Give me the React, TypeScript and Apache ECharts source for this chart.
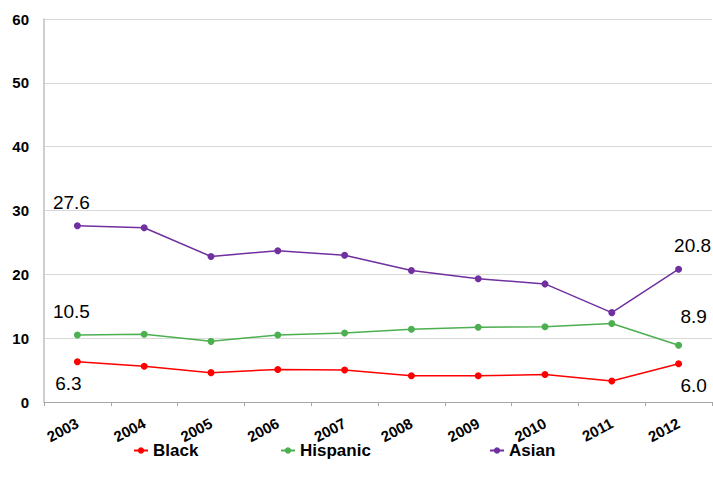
import React, { useEffect, useRef } from "react";
import * as echarts from "echarts";

const years = ["2003", "2004", "2005", "2006", "2007", "2008", "2009", "2010", "2011", "2012"];
const black = [6.3, 5.6, 4.6, 5.1, 5.0, 4.1, 4.1, 4.3, 3.3, 6.0];
const hispanic = [10.5, 10.6, 9.5, 10.5, 10.8, 11.4, 11.7, 11.8, 12.3, 8.9];
const asian = [27.6, 27.3, 22.8, 23.7, 23.0, 20.6, 19.3, 18.5, 14.0, 20.8];
const yTicks = [0, 10, 20, 30, 40, 50, 60];

const FONT = "'Liberation Sans', Arial, sans-serif";

type LabelSpec = { position: string; offset: [number, number]; distance: number };

function buildData(values: number[], first: LabelSpec, last: LabelSpec) {
  return values.map((v, i) => {
    if (i === 0 || i === values.length - 1) {
      const s = i === 0 ? first : last;
      return {
        value: v,
        label: {
          show: true,
          position: s.position,
          offset: s.offset,
          distance: s.distance,
          formatter: (p: any) => Number(p.value).toFixed(1),
          fontFamily: FONT,
          fontSize: 19,
          color: "#000",
        },
      };
    }
    return v;
  });
}

export default function App() {
  const ref = useRef<HTMLDivElement>(null);
  useEffect(() => {
    if (!ref.current) return;
    const chart = echarts.init(ref.current, null, { renderer: "svg" });
    const legendCommon = {
      top: 437,
      itemWidth: 14,
      itemHeight: 8,
      itemGap: 5,
      textStyle: { fontFamily: FONT, fontSize: 17, fontWeight: "bold", color: "#000" },
    };
    chart.setOption({
      animation: false,
      backgroundColor: "#fff",
      grid: { left: 44, right: 1, top: 19, bottom: 85, containLabel: false },
      legend: [
        { ...legendCommon, left: 128, data: ["Black"] },
        { ...legendCommon, left: 275, data: ["Hispanic"] },
        { ...legendCommon, left: 484, data: ["Asian"] },
      ],
      xAxis: {
        type: "category",
        data: years,
        boundaryGap: true,
        axisLine: { show: true, lineStyle: { color: "#a6a6a6", width: 1 } },
        axisTick: { show: true, length: 4, lineStyle: { color: "#a6a6a6" } },
        axisLabel: {
          rotate: 28,
          margin: 20,
          fontFamily: FONT,
          fontSize: 15,
          fontWeight: "bold",
          color: "#000",
          interval: 0,
        },
      },
      yAxis: {
        type: "value",
        min: yTicks[0],
        max: yTicks[yTicks.length - 1],
        interval: 10,
        axisLine: { show: true, lineStyle: { color: "#bfbfbf", width: 1.5 } },
        axisTick: { show: false },
        splitLine: { show: true, lineStyle: { color: "#d9d9d9", width: 1 } },
        axisLabel: {
          margin: 15,
          fontFamily: FONT,
          fontSize: 15,
          fontWeight: "bold",
          color: "#000",
        },
      },
      series: [
        {
          name: "Black",
          type: "line",
          data: buildData(
            black,
            { position: "bottom", offset: [-9, 0], distance: 9 },
            { position: "bottom", offset: [15, 0], distance: 9 }
          ),
          symbol: "circle",
          symbolSize: 7,
          itemStyle: { color: "#ff0000" },
          lineStyle: { color: "#ff0000", width: 1.5 },
        },
        {
          name: "Hispanic",
          type: "line",
          data: buildData(
            hispanic,
            { position: "top", offset: [-6, 0], distance: 10 },
            { position: "top", offset: [15, 0], distance: 16 }
          ),
          symbol: "circle",
          symbolSize: 7,
          itemStyle: { color: "#4caf50" },
          lineStyle: { color: "#4caf50", width: 1.5 },
        },
        {
          name: "Asian",
          type: "line",
          data: buildData(
            asian,
            { position: "top", offset: [-6, 0], distance: 10 },
            { position: "top", offset: [14, 0], distance: 11 }
          ),
          symbol: "circle",
          symbolSize: 7,
          itemStyle: { color: "#7030a0" },
          lineStyle: { color: "#7030a0", width: 1.5 },
        },
      ],
    });
    return () => chart.dispose();
  }, []);
  return <div ref={ref} style={{ width: 713, height: 487, position: "absolute", left: 0, top: 0 }} />;
}
